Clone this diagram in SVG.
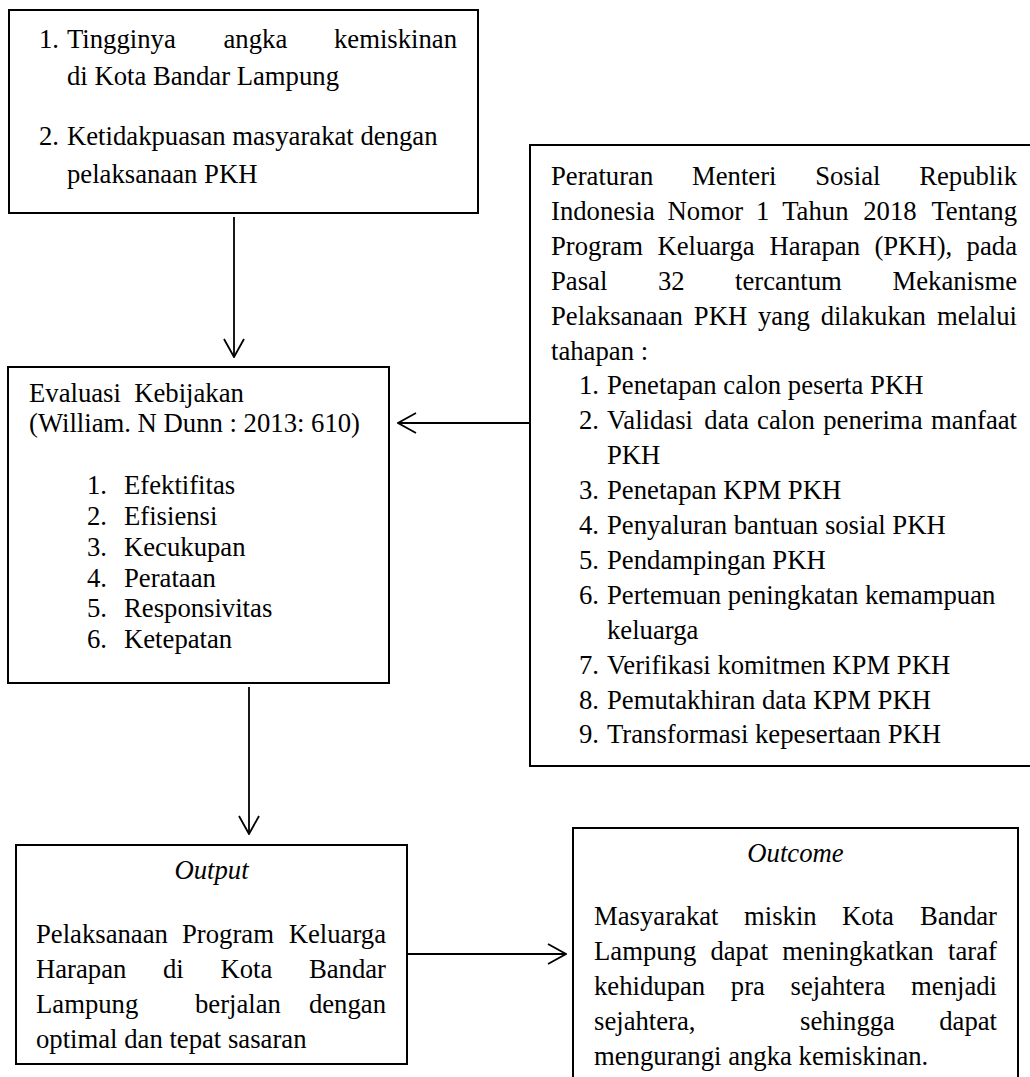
<svg xmlns="http://www.w3.org/2000/svg" width="1030" height="1077" viewBox="0 0 1030 1077">
<defs>
<style>
.box{fill:#fff;stroke:#000;stroke-width:2}
text{font-family:"Liberation Serif","Times New Roman",serif;font-size:26.7px;fill:#000}
.it{font-style:italic}
.pre{white-space:pre}
.conn{stroke:#000;stroke-width:1.8;fill:none}
</style>
<marker id="arr" viewBox="0 0 20 22" refX="19" refY="11" markerWidth="20" markerHeight="22" markerUnits="userSpaceOnUse" orient="auto">
<path d="M1,1 L19,11 L1,21" fill="none" stroke="#000" stroke-width="1.8"/>
</marker>
</defs>

<g id="node-masalah">
<rect class="box" x="9" y="10" width="469" height="203"/>
<text y="48"><tspan x="39">1. </tspan><tspan x="67">Tingginya </tspan><tspan x="223.5">angka </tspan><tspan x="457" text-anchor="end">kemiskinan</tspan></text>
<text x="67" y="85">di Kota Bandar Lampung</text>
<text y="145"><tspan x="39">2. </tspan><tspan x="67">Ketidakpuasan masyarakat dengan</tspan></text>
<text x="67" y="183">pelaksanaan PKH</text>
</g>

<g id="node-permensos">
<rect class="box" x="530" y="145" width="502" height="621"/>
<text y="185"><tspan x="551">Peraturan </tspan><tspan x="692">Menteri </tspan><tspan x="815.2">Sosial </tspan><tspan x="1017" text-anchor="end">Republik</tspan></text>
<text y="219.9"><tspan x="551">Indonesia </tspan><tspan x="667.6">Nomor </tspan><tspan x="756">1 </tspan><tspan x="782.2">Tahun </tspan><tspan x="863.2">2018 </tspan><tspan x="1017" text-anchor="end">Tentang</tspan></text>
<text y="254.8"><tspan x="551">Program </tspan><tspan x="657.4">Keluarga </tspan><tspan x="769.6">Harapan </tspan><tspan x="874.4">(PKH), </tspan><tspan x="1017" text-anchor="end">pada</tspan></text>
<text y="289.7"><tspan x="551">Pasal </tspan><tspan x="657.9">32 </tspan><tspan x="735.1">tercantum </tspan><tspan x="1017" text-anchor="end">Mekanisme</tspan></text>
<text y="324.6"><tspan x="551">Pelaksanaan </tspan><tspan x="693.8">PKH </tspan><tspan x="758">yang </tspan><tspan x="820.7">dilakukan </tspan><tspan x="1017" text-anchor="end">melalui</tspan></text>
<text x="551" y="359.5">tahapan :</text>
<text y="394.4"><tspan x="579">1. </tspan><tspan x="607">Penetapan calon peserta PKH</tspan></text>
<text y="429.3"><tspan x="579">2. </tspan><tspan x="607">Validasi </tspan><tspan x="704.3">data </tspan><tspan x="757.1">calon </tspan><tspan x="823.2">penerima </tspan><tspan x="1017" text-anchor="end">manfaat</tspan></text>
<text x="607" y="464.2">PKH</text>
<text y="499.1"><tspan x="579">3. </tspan><tspan x="607">Penetapan KPM PKH</tspan></text>
<text y="534"><tspan x="579">4. </tspan><tspan x="607">Penyaluran bantuan sosial PKH</tspan></text>
<text y="568.9"><tspan x="579">5. </tspan><tspan x="607">Pendampingan PKH</tspan></text>
<text y="603.8"><tspan x="579">6. </tspan><tspan x="607">Pertemuan peningkatan kemampuan</tspan></text>
<text x="607" y="638.7">keluarga</text>
<text y="673.6"><tspan x="579">7. </tspan><tspan x="607">Verifikasi komitmen KPM PKH</tspan></text>
<text y="708.5"><tspan x="579">8. </tspan><tspan x="607">Pemutakhiran data KPM PKH</tspan></text>
<text y="743.4"><tspan x="579">9. </tspan><tspan x="607">Transformasi kepesertaan PKH</tspan></text>
</g>

<g id="node-evaluasi">
<rect class="box" x="8" y="367" width="381" height="316"/>
<text class="pre" x="29" y="402">Evaluasi  Kebijakan</text>
<text x="29" y="432">(William. N Dunn : 2013: 610)</text>
<text y="494"><tspan x="87">1. </tspan><tspan x="124">Efektifitas</tspan></text>
<text y="525"><tspan x="87">2. </tspan><tspan x="124">Efisiensi</tspan></text>
<text y="556"><tspan x="87">3. </tspan><tspan x="124">Kecukupan</tspan></text>
<text y="586.5"><tspan x="87">4. </tspan><tspan x="124">Perataan</tspan></text>
<text y="617"><tspan x="87">5. </tspan><tspan x="124">Responsivitas</tspan></text>
<text y="648"><tspan x="87">6. </tspan><tspan x="124">Ketepatan</tspan></text>
</g>

<g id="node-output">
<rect class="box" x="16" y="845" width="391" height="219"/>
<text class="it" x="211.5" y="879" text-anchor="middle">Output</text>
<text y="943"><tspan x="36">Pelaksanaan </tspan><tspan x="182">Program </tspan><tspan x="386" text-anchor="end">Keluarga</tspan></text>
<text y="978"><tspan x="36">Harapan </tspan><tspan x="163">di </tspan><tspan x="220.4">Kota </tspan><tspan x="386" text-anchor="end">Bandar</tspan></text>
<text y="1013"><tspan x="36">Lampung </tspan><tspan x="195">berjalan </tspan><tspan x="386" text-anchor="end">dengan</tspan></text>
<text x="36" y="1048">optimal dan tepat sasaran</text>
</g>

<g id="node-outcome">
<rect class="box" x="573" y="828" width="445" height="260"/>
<text class="it" x="795.5" y="862" text-anchor="middle">Outcome</text>
<text y="925"><tspan x="594">Masyarakat </tspan><tspan x="744">miskin </tspan><tspan x="842">Kota </tspan><tspan x="997" text-anchor="end">Bandar</tspan></text>
<text y="960"><tspan x="594">Lampung </tspan><tspan x="710.4">dapat </tspan><tspan x="782.3">meningkatkan </tspan><tspan x="997" text-anchor="end">taraf</tspan></text>
<text y="995"><tspan x="594">kehidupan </tspan><tspan x="730.8">pra </tspan><tspan x="790.5">sejahtera </tspan><tspan x="997" text-anchor="end">menjadi</tspan></text>
<text y="1030"><tspan x="594">sejahtera, </tspan><tspan x="800.1">sehingga </tspan><tspan x="997" text-anchor="end">dapat</tspan></text>
<text x="594" y="1065">mengurangi angka kemiskinan.</text>
</g>

<g id="connectors">
<line class="conn" x1="234" y1="217" x2="234" y2="357" marker-end="url(#arr)"/>
<line class="conn" x1="530" y1="423" x2="398" y2="423" marker-end="url(#arr)"/>
<line class="conn" x1="249" y1="687" x2="249" y2="834" marker-end="url(#arr)"/>
<line class="conn" x1="407" y1="954" x2="566" y2="954" marker-end="url(#arr)"/>
</g>
</svg>
